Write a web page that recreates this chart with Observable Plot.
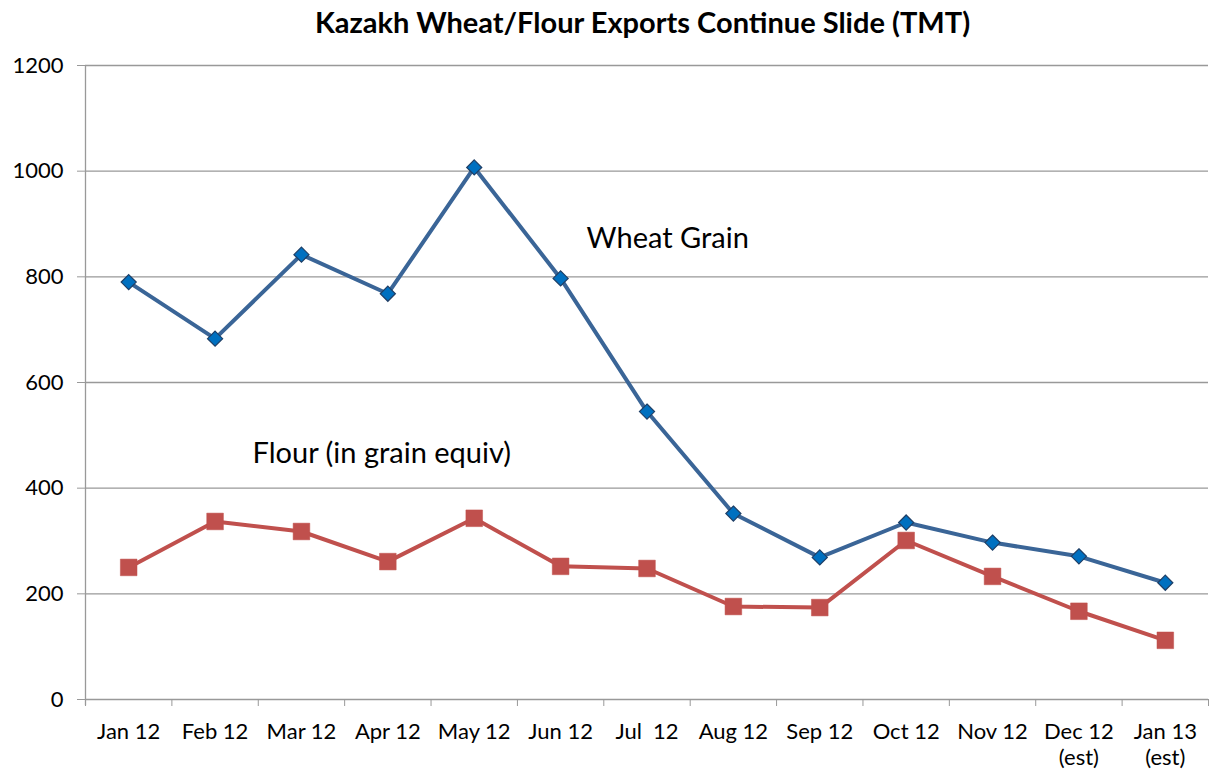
<!DOCTYPE html>
<html>
<head>
<meta charset="utf-8">
<script src="https://cdn.jsdelivr.net/npm/d3@7"></script>
<script src="https://cdn.jsdelivr.net/npm/@observablehq/plot@0.6"></script>
<style>
  html, body { margin: 0; padding: 0; background: #fff; }
  #title { font-family: Lato, "Open Sans", sans-serif; font-weight: bold; font-size: 29px; text-align: center; height: 42px; line-height: 44px; color: #000; padding-left: 76px; box-sizing: border-box; width: 1209px; overflow: hidden; }
</style>
</head>
<body>
<div id="title">Kazakh Wheat/Flour Exports Continue Slide (TMT)</div>
<div id="chart"></div>
<script>
const categories = ["Jan 12", "Feb 12", "Mar 12", "Apr 12", "May 12", "Jun 12", "Jul  12", "Aug 12", "Sep 12", "Oct 12", "Nov 12", "Dec 12\n(est)", "Jan 13\n(est)"];
const wheatGrain = [790, 683, 842, 768, 1007, 797, 545, 352, 269, 335, 297, 271, 221];
const flour = [250, 337, 318, 261, 343, 252, 248, 176, 174, 301, 233, 167, 112];
const yTicks = [0, 200, 400, 600, 800, 1000, 1200];
const seriesLabels = [
  {label: "Wheat Grain", x: 6.24, y: 873, color: "#000"},
  {label: "Flour (in grain equiv)", x: 2.93, y: 466, color: "#000"}
];

const idx = categories.map((_, i) => i);
const wheatData = idx.map(i => ({i, v: wheatGrain[i]}));
const flourData = idx.map(i => ({i, v: flour[i]}));
const boundaries = d3.range(categories.length + 1).map(i => i - 0.5);

const chart = Plot.plot({
  width: 1209,
  height: 729,
  marginTop: 23,
  marginBottom: 72,
  marginLeft: 85,
  marginRight: 1,
  style: {fontFamily: "Lato, 'Open Sans', sans-serif", fontSize: "22px", color: "#000", background: "#fff", overflow: "visible"},
  x: {type: "linear", domain: [-0.5, categories.length - 0.5]},
  y: {domain: [0, 1200]},
  marks: [
    Plot.gridY(yTicks, {stroke: "#999", strokeOpacity: 1, strokeWidth: 1.3}),
    Plot.ruleX([-0.5], {y1: -12, y2: 1200, stroke: "#999", strokeWidth: 1.3, clip: false}),
    Plot.axisY(yTicks, {tickSize: 8, tickPadding: 14, stroke: "#999", tickFormat: d => String(d), label: null, fontSize: 22}),
    Plot.axisX(boundaries, {tickSize: 7, stroke: "#999", tickFormat: () => "", label: null}),
    Plot.axisX(idx, {tickSize: 0, tickPadding: 20, tickFormat: i => categories[i], label: null, fontSize: 22, lineHeight: 1.22}),
    Plot.line(wheatData, {x: "i", y: "v", stroke: "#3A6597", strokeWidth: 4}),
    Plot.dot(wheatData, {x: "i", y: "v", symbol: "diamond2", r: 6.8, fill: "#0070C0", stroke: "#1F3F66", strokeWidth: 1.2}),
    Plot.line(flourData, {x: "i", y: "v", stroke: "#C0504D", strokeWidth: 4}),
    Plot.dot(flourData, {x: "i", y: "v", symbol: "square", r: 9.4, fill: "#C0504D", stroke: "#C0504D", strokeWidth: 0.5}),
    Plot.text(seriesLabels, {x: "x", y: "y", text: "label", fill: "color", fontSize: 29})
  ]
});
document.getElementById("chart").appendChild(chart);
</script>
</body>
</html>
